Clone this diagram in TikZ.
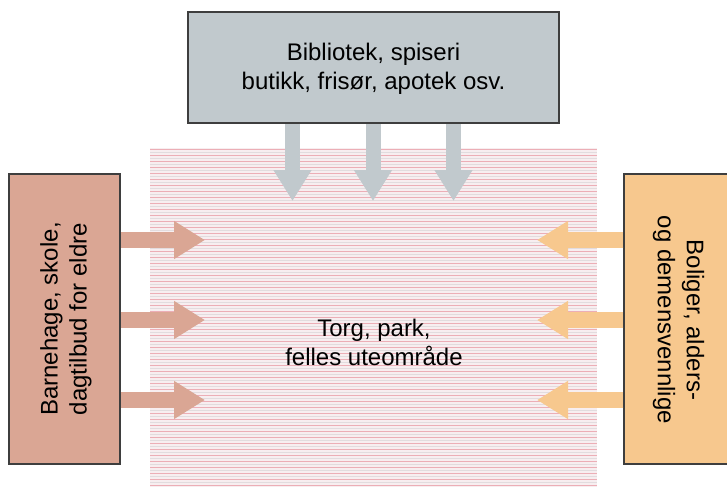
\documentclass[tikz,border=0pt]{standalone}
\usepackage{fontspec}
\setmainfont{Liberation Sans}
\usetikzlibrary{arrows.meta}

\definecolor{gra}{RGB}{193,201,205}
\definecolor{laks}{RGB}{218,166,148}
\definecolor{oransje}{RGB}{247,200,142}
\definecolor{ramme}{RGB}{62,62,62}
\definecolor{torgbunn}{RGB}{247,238,240}
\definecolor{torgrosa}{RGB}{236,174,182}
\definecolor{torggra}{RGB}{226,220,222}

\tikzset{
  boks/.style={draw=ramme, line width=1.5pt, inner sep=0pt},
  pil/.style={line width=16pt, -{Triangle[length=31pt,width=36pt]}},
  tekst/.style={font=\fontsize{24}{29}\selectfont, align=center, inner sep=0pt}
}

\begin{document}
\begin{tikzpicture}[x=1pt,y=-1pt]
\useasboundingbox (0,0) rectangle (727,487);

% torget, stripete flate
\fill[torgbunn] (150,148) rectangle (597,487);
\foreach \y in {149.5,155.5,...,487}
  \draw[torgrosa, line width=0.9pt] (150,\y) -- (597,\y);
\foreach \y in {152.5,158.5,...,487}
  \draw[torggra, line width=0.9pt] (150,\y) -- (597,\y);
\node[tekst] (torg) at (374,342) {Torg, park,\\felles uteområde};

% boksene rundt
\node[boks, fill=gra, minimum width=371pt, minimum height=111pt] (tilbud) at (373.5,67.5) {};
\node[tekst] (tilbudtekst) at (373.5,69) {Bibliotek, spiseri\\butikk, frisør, apotek osv.};

\node[boks, fill=laks, minimum width=111pt, minimum height=290pt] (barn) at (64.5,319) {};
\node[tekst, rotate=90] (barntekst) at (66,319) {Barnehage, skole,\\dagtilbud for eldre};

\node[boks, fill=oransje, minimum width=120pt, minimum height=290pt] (bolig) at (684,319) {};
\node[tekst, rotate=-90] (boligtekst) at (678.5,320) {Boliger, alders-\\og demensvennlige};

% piler inn mot torget
\coordinate (ned1) at (292.5,201);
\coordinate (ned2) at (373,201);
\coordinate (ned3) at (453.5,201);
\foreach \p in {ned1,ned2,ned3}
  \draw[pil, gra, line width=15pt] (\p |- tilbud.south) -- (\p);

\coordinate (vh1) at (205,240);
\coordinate (vh2) at (205,320);
\coordinate (vh3) at (205,400);
\foreach \p in {vh1,vh2,vh3}
  \draw[pil, laks] (\p -| barn.east) -- (\p);

\coordinate (hv1) at (537,240);
\coordinate (hv2) at (537,320);
\coordinate (hv3) at (537,400);
\foreach \p in {hv1,hv2,hv3}
  \draw[pil, oransje] (\p -| bolig.west) -- (\p);
\end{tikzpicture}
\end{document}
